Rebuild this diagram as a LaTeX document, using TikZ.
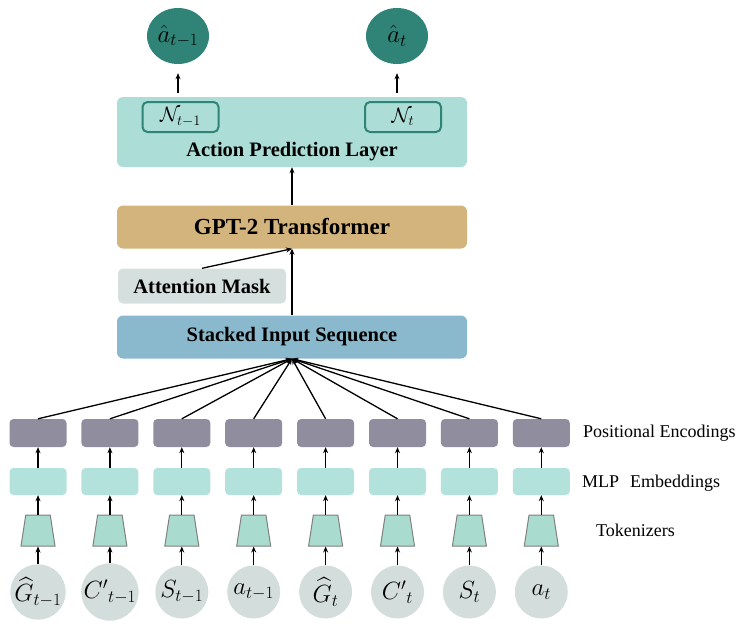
\documentclass[tikz,border=0pt]{standalone}
\usepackage{amsmath}
\usepackage{fontspec}
\setmainfont{Liberation Serif}
\usetikzlibrary{shapes.geometric,arrows.meta,positioning}
\definecolor{outteal}{RGB}{47,132,119}
\definecolor{aplteal}{RGB}{172,221,214}
\definecolor{gpttan}{RGB}{212,180,125}
\definecolor{maskgray}{RGB}{213,223,221}
\definecolor{stackblue}{RGB}{138,185,205}
\definecolor{pegray}{RGB}{144,142,158}
\definecolor{mlpteal}{RGB}{179,226,220}
\definecolor{tokteal}{RGB}{170,219,207}
\definecolor{ingray}{RGB}{211,221,219}
\tikzset{
    blkarrow/.style={
        line width=1.3pt,
        black,
        -{Stealth[length=6pt, width=5pt]}
    },
    % wide layer boxes
    layerbox/.style={
        rounded corners=6pt,
        minimum width=350pt,
        inner sep=0pt
    },
    boldtxt/.style={font=\fontsize{20.5}{23}\selectfont\bfseries, inner sep=0pt},
    sidetxt/.style={font=\fontsize{18}{20}\selectfont, anchor=west, inner sep=0pt},
    pebox/.style={fill=pegray, rounded corners=4pt, minimum width=57pt, minimum height=28pt, inner sep=0pt},
    mlpbox/.style={fill=mlpteal, rounded corners=4pt, minimum width=57pt, minimum height=27pt, inner sep=0pt},
    tokshape/.style={trapezium, trapezium stretches=true, trapezium left angle=79, trapezium right angle=79,
        minimum width=34pt, minimum height=31pt, inner sep=1pt, fill=tokteal, draw=gray, line width=1pt},
    inball/.style={circle, fill=ingray, minimum size=53pt, inner sep=0pt, font=\fontsize{23}{26}\selectfont},
    outball/.style={ellipse, fill=outteal, minimum width=62pt, minimum height=56pt, inner sep=0pt, font=\fontsize{24}{27}\selectfont},
    nbox/.style={draw=outteal, line width=2pt, rounded corners=5pt, fill=aplteal, minimum width=76pt, minimum height=30pt, inner sep=0pt, font=\fontsize{22}{25}\selectfont}
}
\begin{document}
\begin{tikzpicture}[x=1pt,y=-1pt]
\useasboundingbox (0,0) rectangle (748,624);

% ===================== upper part =====================
\node[layerbox, fill=aplteal, minimum height=70pt] (apl) at (292,132) {};
\node[boldtxt] (apltxt) at (292,152) {Action Prediction Layer};
\node[nbox] (n1) at (180.5,117) {$\mathcal{N}_{t-1}$};
\node[nbox] (n2) at (403,117) {$\mathcal{N}_{t}$};
\node[outball] (o1) at (178,36) {$\hat{a}_{t-1}$};
\node[outball] (o2) at (397,36) {$\hat{a}_{t}$};

\node[layerbox, fill=gpttan, minimum height=43pt, font=\fontsize{23}{26}\selectfont\bfseries] (gpt) at (292,227) {GPT-2 Transformer};
\node[fill=maskgray, rounded corners=5pt, minimum width=168pt, minimum height=35pt, inner sep=0pt, boldtxt] (mask) at (202,286) {Attention Mask};
\node[layerbox, fill=stackblue, minimum height=43pt, boldtxt] (stack) at (292,337) {Stacked Input Sequence};

\draw[blkarrow, shorten <=8pt, shorten >=9pt] (o1.south |- n1.north) -- (o1.south);
\draw[blkarrow, shorten <=8pt, shorten >=9pt] (o2.south |- n2.north) -- (o2.south);
\draw[blkarrow] (gpt.north) -- (apl.south);
\draw[blkarrow] (stack.north) -- (gpt.south);
\draw[blkarrow] (mask.north) -- (gpt.south);

% ===================== token columns =====================
\foreach \lab [count=\i from 0] in {\widehat{G}_{t-1},{C'}_{t-1},S_{t-1},a_{t-1},\widehat{G}_{t},{C'}_{t},S_{t},a_{t}}{
    \node[pebox] (pe\i) at (38+71.9*\i,433) {};
    \node[mlpbox] (mlp\i) at (38+71.9*\i,481.5) {};
    \node[tokshape] (tok\i) at (38+71.9*\i,530.5) {};
    \node[inball] (in\i) at (38+71.9*\i,592) {$\lab$};
    \draw[blkarrow] (in\i.north) -- (tok\i.south);
    \draw[blkarrow] (tok\i.north) -- (mlp\i.south);
    \draw[blkarrow] (mlp\i.north) -- (pe\i.south);
    \draw[blkarrow] (pe\i.north) -- (stack.south);
}

% side labels
\node[sidetxt] (pelab) at (583,433) {Positional Encodings};
\node[sidetxt] (mlplab) at (582,483) {MLP\hspace{0.6em}Embeddings};
\node[sidetxt] (toklab) at (596,530) {Tokenizers};
\end{tikzpicture}
\end{document}
